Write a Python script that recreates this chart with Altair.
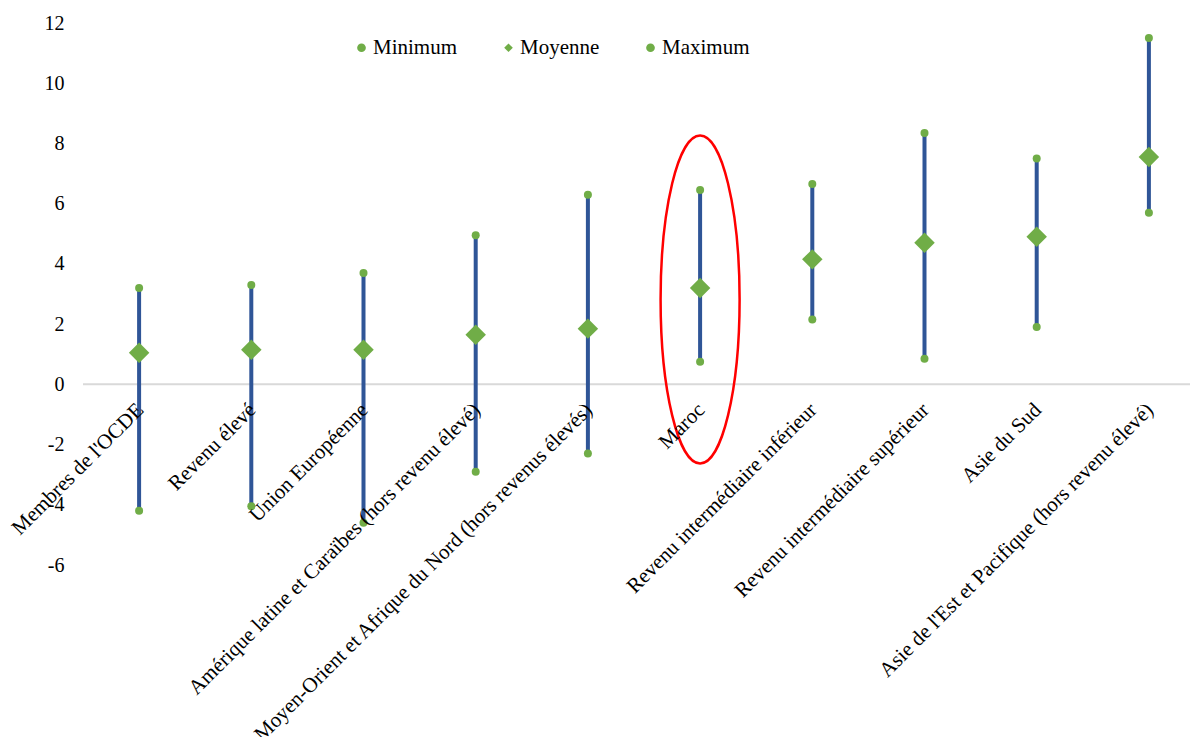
import altair as alt
import pandas as pd

categories = [
    "Membres de l'OCDE",
    "Revenu élevé",
    "Union Européenne",
    "Amérique latine et Caraïbes (hors revenu élevé)",
    "Moyen-Orient et Afrique du Nord (hors revenus élevés)",
    "Maroc",
    "Revenu intermédiaire inférieur",
    "Revenu intermédiaire supérieur",
    "Asie du Sud",
    "Asie de l'Est et Pacifique (hors revenu élevé)",
]
minimum = [-4.2, -4.05, -4.6, -2.9, -2.3, 0.75, 2.15, 0.85, 1.9, 5.7]
moyenne = [1.05, 1.15, 1.15, 1.65, 1.85, 3.2, 4.15, 4.7, 4.9, 7.55]
maximum = [3.2, 3.3, 3.7, 4.95, 6.3, 6.45, 6.65, 8.35, 7.5, 11.5]
series_names = ["Minimum", "Moyenne", "Maximum"]
y_ticks = [-6, -4, -2, 0, 2, 4, 6, 8, 10, 12]
highlight = ["Maroc"]
highlight_center = [2.82]

GREEN = "#70AD47"
BLUE = "#2F5597"
FONT = "Liberation Serif"

wide = pd.DataFrame({"cat": categories, "Minimum": minimum, "Moyenne": moyenne, "Maximum": maximum})
long = wide.melt(id_vars="cat", value_vars=series_names, var_name="series", value_name="value")
labels = pd.DataFrame({"cat": categories, "zero": [0] * len(categories)})
ell = pd.DataFrame({"cat": highlight, "y": highlight_center})

x_enc = alt.X("cat:N", sort=categories, axis=None,
              scale=alt.Scale(domain=categories, range=[0, 1122], paddingInner=0, paddingOuter=0))
y_scale = alt.Scale(domain=[-6, 12], nice=False, zero=False)

zero_rule = alt.Chart(pd.DataFrame({"z": [0]})).mark_rule(color="#D9D9D9", strokeWidth=2).encode(
    y=alt.Y("z:Q", scale=y_scale,
            axis=alt.Axis(values=y_ticks, grid=False, domain=False, ticks=False,
                          labelFont=FONT, labelFontSize=20, labelColor="#000000",
                          labelPadding=19, title=None, labelExpr="'' + datum.value"))
)

bars = alt.Chart(wide).mark_rule(color=BLUE, strokeWidth=4).encode(
    x=x_enc,
    y=alt.Y("Minimum:Q", scale=y_scale),
    y2="Maximum:Q",
)

points = alt.Chart(long).transform_calculate(
    sz="datum.series == 'Moyenne' ? 420 : 64"
).mark_point(filled=True, color=GREEN, opacity=1, strokeWidth=0).encode(
    x=x_enc,
    y=alt.Y("value:Q", scale=y_scale),
    shape=alt.Shape("series:N",
                    scale=alt.Scale(domain=series_names, range=["circle", "diamond", "circle"]),
                    legend=alt.Legend(orient="none", legendX=268, legendY=14, direction="horizontal",
                                      title=None, labelFont=FONT, labelFontSize=21, labelColor="#000000",
                                      symbolSize=75, labelOffset=1, columnPadding=40, padding=0,
                                      symbolStrokeWidth=0, symbolFillColor=GREEN)),
    size=alt.Size("sz:Q", scale=None, legend=None),
)

text = alt.Chart(labels).mark_text(angle=315, align="right", baseline="top", font=FONT, fontSize=21,
                                    color="#000000", dx=-15, dy=6).encode(
    x=x_enc,
    y=alt.Y("zero:Q", scale=y_scale),
    text="cat:N",
)

a = 0.2409
k = 0.5523
ka = round(k * a, 4)
ell_path = (f"M {a} 0 C {a} {k} {ka} 1 0 1 C {-ka} 1 {-a} {k} {-a} 0 "
            f"C {-a} {-k} {-ka} -1 0 -1 C {ka} -1 {a} {-k} {a} 0 Z")
ellipse = alt.Chart(ell).mark_point(shape=ell_path, size=328 * 328, filled=False, color="#FF0000",
                                    strokeWidth=2.5, opacity=1).encode(
    x=x_enc,
    y=alt.Y("y:Q", scale=y_scale),
)

chart = alt.layer(zero_rule, bars, points, ellipse, text).properties(
    width=1107, height=542,
    autosize=alt.AutoSizeParams(type="none"),
    padding={"left": 75, "top": 15, "right": 0, "bottom": 172},
).configure_view(stroke=None)

chart.save("out.html", embed_options={"renderer": "svg", "actions": False})
